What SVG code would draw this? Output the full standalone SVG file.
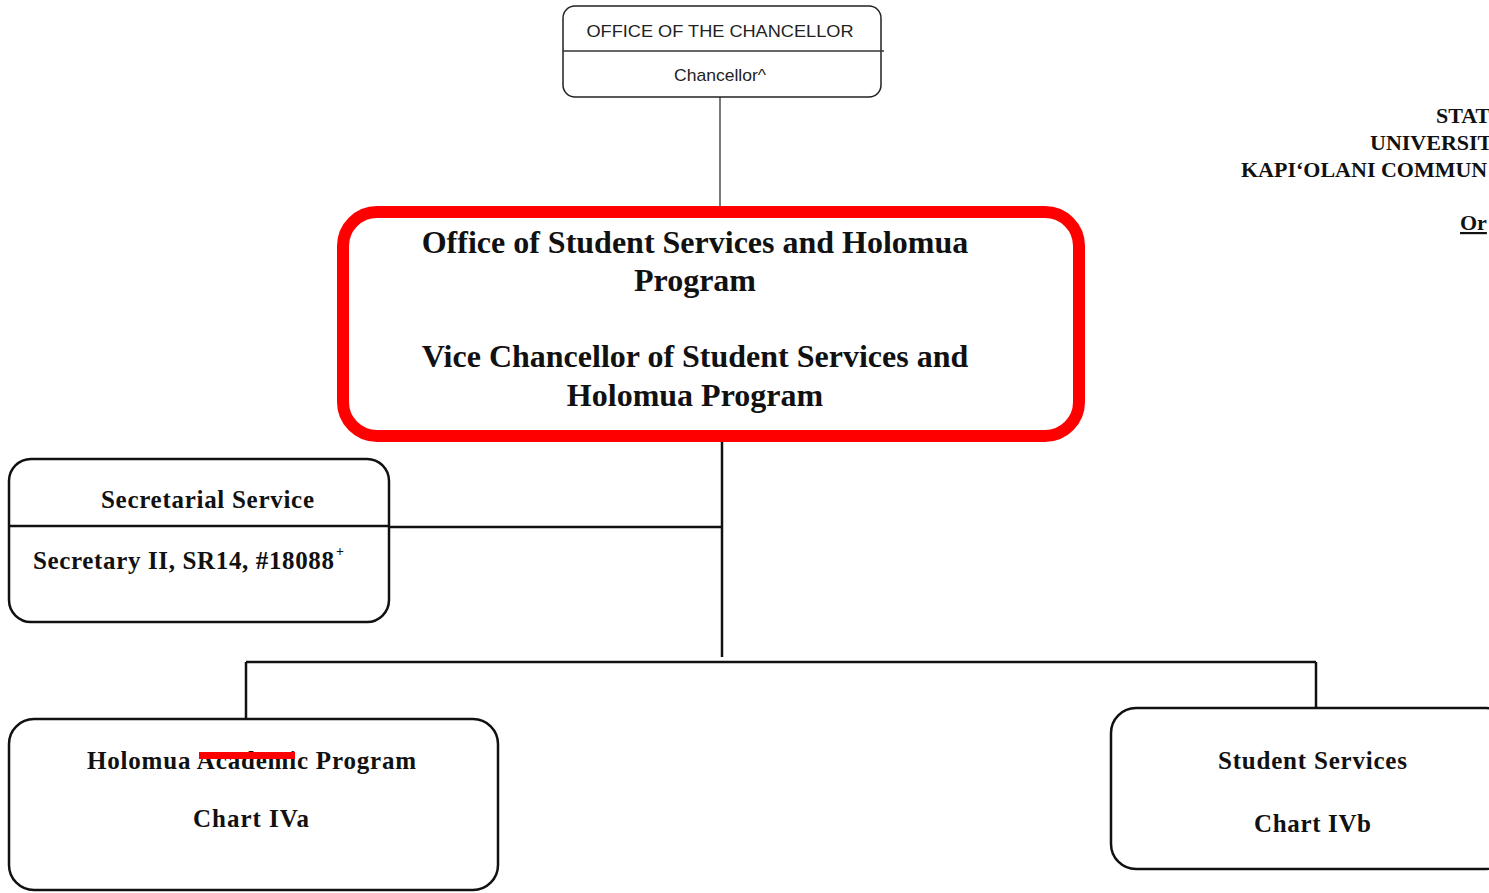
<svg xmlns="http://www.w3.org/2000/svg" width="1489" height="893" viewBox="0 0 1489 893">
<style>
.box{fill:#fff;stroke:#111;stroke-width:2.5}
.thin{fill:#fff;stroke:#222;stroke-width:1.5}
.ln{stroke:#111;stroke-width:2.5;fill:none}
.tl{stroke:#333;stroke-width:1.3;fill:none}
.b{font-family:"Liberation Serif","Times New Roman",serif;font-weight:bold;fill:#111}
.s{font-family:"Liberation Sans",Arial,sans-serif;fill:#222}
</style>
<rect width="1489" height="893" fill="#fff"/>
<g id="connectors">
<line class="tl" x1="720" y1="97" x2="720" y2="207"/>
<line class="ln" x1="722" y1="441" x2="722" y2="657"/>
<line class="ln" x1="390" y1="527" x2="722" y2="527"/>
<line class="ln" x1="246" y1="662" x2="1316" y2="662"/>
<line class="ln" x1="246" y1="662" x2="246" y2="719"/>
<line class="ln" x1="1316" y1="662" x2="1316" y2="708"/>
</g>
<g id="chancellor">
<rect class="thin" x="563" y="6" width="318" height="91" rx="12"/>
<line class="tl" x1="563" y1="51" x2="884" y2="51"/>
<text class="s" x="720" y="37" font-size="17" text-anchor="middle" textLength="267" lengthAdjust="spacingAndGlyphs">OFFICE OF THE CHANCELLOR</text>
<text class="s" x="720" y="81" font-size="17" text-anchor="middle" textLength="92" lengthAdjust="spacingAndGlyphs">Chancellor^</text>
</g>
<g id="header">
<text class="b" x="1436" y="123" font-size="22">STAT</text>
<text class="b" x="1370" y="150" font-size="22">UNIVERSIT</text>
<text class="b" x="1241" y="177" font-size="22">KAPI‘OLANI COMMUN</text>
<text class="b" x="1460" y="230" font-size="22" text-decoration="underline">Or</text>
</g>
<g id="vc">
<rect x="343" y="212" width="736" height="224" rx="34" fill="#fff" stroke="#f00" stroke-width="12"/>
<text class="b" font-size="32" text-anchor="middle"><tspan x="695" y="253">Office of Student Services and Holomua</tspan><tspan x="695" y="291">Program</tspan><tspan x="695" y="367">Vice Chancellor of Student Services and</tspan><tspan x="695" y="406">Holomua Program</tspan></text>
</g>
<g id="secretarial">
<rect class="box" x="9" y="459" width="380" height="163" rx="22"/>
<line class="ln" x1="9" y1="526" x2="389" y2="526"/>
<text class="b" x="101" y="508" font-size="25" textLength="213" lengthAdjust="spacing">Secretarial Service</text>
<text class="b" x="33" y="569" font-size="25" textLength="301" lengthAdjust="spacing">Secretary II, SR14, #18088</text>
<text class="b" x="336" y="556" font-size="14">+</text>
</g>
<g id="holomua">
<rect class="box" x="9" y="719" width="489" height="171" rx="25"/>
<text class="b" x="87" y="769" font-size="25" textLength="329" lengthAdjust="spacing">Holomua Academic Program</text>
<rect x="199" y="752" width="96" height="7" fill="#f00"/>
<text class="b" x="193" y="827" font-size="25" textLength="116" lengthAdjust="spacing">Chart IVa</text>
</g>
<g id="student-services">
<rect class="box" x="1111" y="708" width="400" height="161" rx="25"/>
<text class="b" x="1218" y="769" font-size="25" textLength="189" lengthAdjust="spacing">Student Services</text>
<text class="b" x="1254" y="832" font-size="25" textLength="117" lengthAdjust="spacing">Chart IVb</text>
</g>
</svg>
